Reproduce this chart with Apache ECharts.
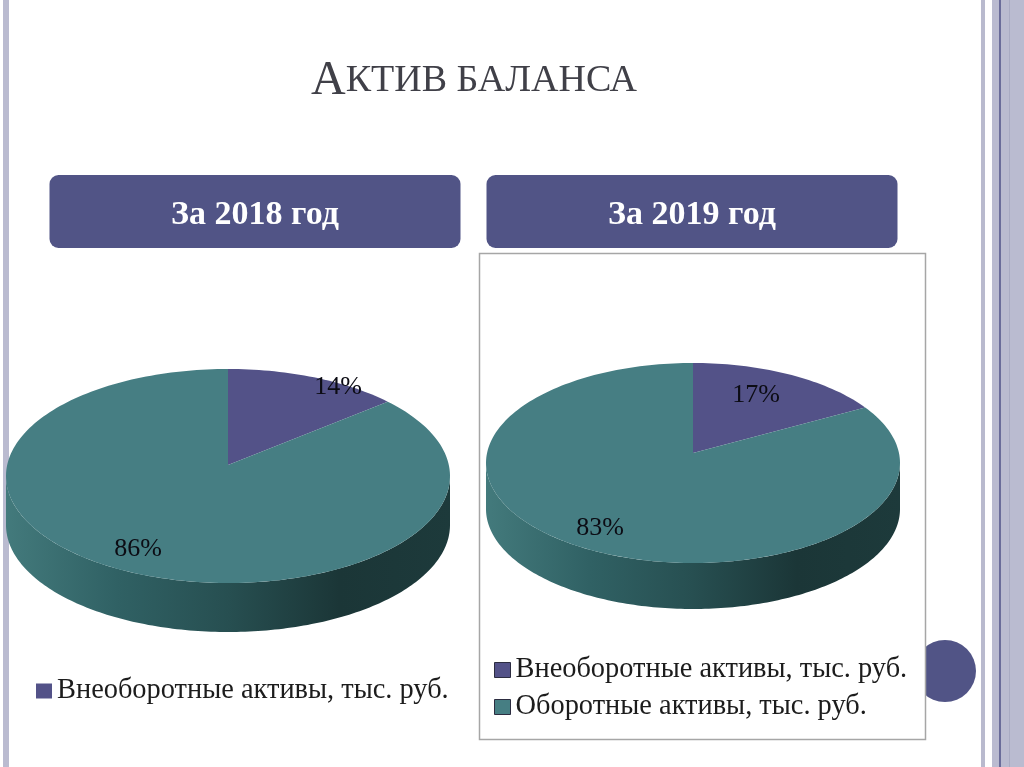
<!DOCTYPE html>
<html><head><meta charset="utf-8">
<style>html,body{margin:0;padding:0;background:#fff}#c{width:1024px;height:767px}</style>
<script src="https://cdn.jsdelivr.net/npm/echarts@6/dist/echarts.min.js"></script>
</head><body><div id="c"></div>
<script>
var categories = ['Внеоборотные активы, тыс. руб.', 'Оборотные активы, тыс. руб.'];
var years = ['За 2018 год', 'За 2019 год'];
var values2018 = [14, 86];
var values2019 = [17, 83];
var valuesByPie = [values2018, values2019];

var SERIF = '"Liberation Serif","DejaVu Serif",serif';
var colors = ['#535288', '#467e83'];
// Drawing geometry of each tilted pie: apex, half-width, back/front reach, wall depth
var pies = [
  {cx: 228, cy: 465, back: 96, front: 118, halfW: 222, depth: 49, labels: [[338, 387], [138, 549]]},
  {cx: 693, cy: 453, back: 90, front: 110, halfW: 207, depth: 46, labels: [[756, 395], [600, 528]]}
];
pies.forEach(function (p) {
  p.k = (p.front - p.back) / (p.front + p.back);
  p.b = p.back * (1 + p.k);
  p.a = p.halfW * Math.sqrt(1 - p.k * p.k);
});
// angle in turns, clockwise from 12 o'clock, projected with perspective
function project(p, turn, radius) {
  var th = turn * 2 * Math.PI, u = Math.sin(th) * radius, v = Math.cos(th) * radius, w = 1 + p.k * v;
  return [p.cx + p.a * u / w, p.cy - p.b * v / w];
}
function sectorPoints(p, from, to) {
  var pts = [[p.cx, p.cy]], n = Math.max(8, Math.ceil((to - from) * 240));
  for (var i = 0; i <= n; i++) pts.push(project(p, from + (to - from) * i / n, 1));
  return pts;
}
function wallPoints(p) {
  var ring = [], i, n = 360, l = 0, r = 0;
  for (i = 0; i < n; i++) ring.push(project(p, i / n, 1));
  for (i = 0; i < n; i++) { if (ring[i][0] < ring[l][0]) l = i; if (ring[i][0] > ring[r][0]) r = i; }
  var front = [];
  for (i = r; i <= l; i++) front.push(ring[i]);
  var pts = front.slice();
  for (i = front.length - 1; i >= 0; i--) pts.push([front[i][0], front[i][1] + p.depth]);
  return pts;
}
function renderWall(params, api) {
  var p = pies[api.value(0)];
  return {
    type: 'polygon', shape: {points: wallPoints(p)},
    style: {fill: new echarts.graphic.LinearGradient(0, 0, 1, 0, [
      {offset: 0, color: '#437a7c'}, {offset: 0.25, color: '#306164'},
      {offset: 0.5, color: '#274f51'}, {offset: 0.75, color: '#1b3637'}, {offset: 1, color: '#1d3a3b'}
    ])}
  };
}
function makeRender(catIndex) {
  return function (params, api) {
    var pieIdx = api.value(0), p = pies[pieIdx], vals = valuesByPie[pieIdx];
    var total = vals.reduce(function (s, x) { return s + x; }, 0), start = 0;
    for (var i = 0; i < catIndex; i++) start += vals[i];
    var from = start / total, to = (start + api.value(1)) / total, pos = p.labels[catIndex];
    return {
      type: 'group',
      children: [
        {type: 'polygon', shape: {points: sectorPoints(p, from, to)}, style: {fill: colors[catIndex]}},
        {type: 'text', z2: 10, x: pos[0], y: pos[1], style: {
          text: api.value(1) + '%', font: '26px ' + SERIF, fill: '#0c0c14',
          align: 'center', verticalAlign: 'middle'}}
      ]
    };
  };
}
function stripe(x, w, fill) {
  return {type: 'rect', shape: {x: x, y: 0, width: w, height: 767}, style: {fill: fill}, silent: true};
}
function banner(x, text) {
  return {
    type: 'rect', shape: {x: x, y: 175, width: 411, height: 73, r: 9}, style: {fill: '#515486'},
    textContent: {type: 'text', style: {text: text, font: 'bold 34px ' + SERIF, fill: '#fff'}},
    textConfig: {position: 'inside', offset: [0, 4]}
  };
}
var chart = echarts.init(document.getElementById('c'), null, {renderer: 'canvas'});
chart.setOption({
  animation: false,
  backgroundColor: '#ffffff',
  title: {
    left: 311, top: 57, padding: 0,
    text: '{a|А}{b|КТИВ БАЛАНСА}',
    textStyle: {fontWeight: 'normal', rich: {
      a: {fontFamily: SERIF, fontSize: 48, fontWeight: 'normal', color: '#404048'},
      b: {fontFamily: SERIF, fontSize: 38, fontWeight: 'normal', color: '#404048'}
    }}
  },
  legend: [
    {show: true, left: 36, top: 677, padding: 0, data: [categories[0]], icon: 'rect', itemWidth: 16, itemHeight: 15,
     selectedMode: false, textStyle: {fontFamily: SERIF, fontSize: 28.4, color: '#1c1c1c'}},
    {show: true, left: 494, top: 656, padding: 0, orient: 'vertical', itemGap: 9, data: categories, icon: 'rect', itemWidth: 16, itemHeight: 15,
     selectedMode: false, itemStyle: {borderColor: '#2c2c40', borderWidth: 1},
     textStyle: {fontFamily: SERIF, fontSize: 28.4, color: '#1c1c1c'}}
  ],
  graphic: {elements: [
    stripe(3, 6, '#babbd0'),
    stripe(981, 4, '#b9bace'),
    stripe(992, 32, '#babbd0'),
    stripe(999, 2, '#6a6c9a'),
    stripe(1009, 1, '#a9abc3'),
    {type: 'circle', shape: {cx: 945, cy: 671, r: 31}, style: {fill: '#515486'}},
    {type: 'rect', shape: {x: 479.5, y: 253.5, width: 446, height: 486}, style: {fill: '#fff', stroke: '#a6a6a6', lineWidth: 1.5}},
    banner(49.5, years[0]),
    banner(486.5, years[1])
  ]},
  series: [
    {type: 'custom', name: 'wall', coordinateSystem: 'none', silent: true, renderItem: renderWall, data: [[0], [1]], z: 2},
    {type: 'custom', name: categories[0], coordinateSystem: 'none', silent: true, renderItem: makeRender(0),
     itemStyle: {color: colors[0]}, data: [[0, values2018[0]], [1, values2019[0]]], z: 3},
    {type: 'custom', name: categories[1], coordinateSystem: 'none', silent: true, renderItem: makeRender(1),
     itemStyle: {color: colors[1]}, data: [[0, values2018[1]], [1, values2019[1]]], z: 3}
  ]
});
</script></body></html>
